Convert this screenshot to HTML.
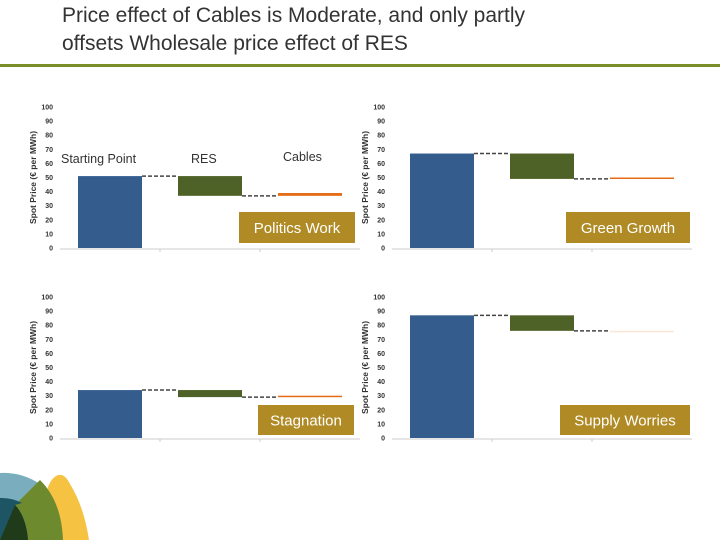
<!DOCTYPE html>
<html><head><meta charset="utf-8"><style>
html,body{margin:0;width:720px;height:540px;background:#fff;overflow:hidden;font-family:"Liberation Sans",sans-serif;}
svg{display:block;}
svg text{font-family:"Liberation Sans",sans-serif;}
</style></head><body>
<svg id="s" width="720" height="540" viewBox="0 0 720 540" xmlns="http://www.w3.org/2000/svg">
<text x="62" y="22" font-size="21" fill="#333">Price effect of Cables is Moderate, and only partly</text>
<text x="62" y="50" font-size="21" fill="#333">offsets Wholesale price effect of RES</text>
<rect x="0" y="64" width="720" height="3" fill="#7a8f2a"/>
<g>
<path d="M0 473 A67 67 0 0 1 40 484 L28 540 L0 540 Z" fill="#7aaebf"/>
<path d="M40 540 C42 505 46 482 56 476 C62 473 66 476 70 484 C80 500 86 520 89 540 Z" fill="#f5c242"/>
<path d="M40 480 C55 495 62 515 63 540 L28 540 C27 525 22 512 15 505 Z" fill="#6e8a2e"/>
<path d="M0 498 A42 42 0 0 1 22 503 L15 505 C22 512 27 525 28 540 L0 540 Z" fill="#1e5565"/>
<path d="M15 505 C22 512 27 525 28 540 L0 540 Z" fill="#1f3b1a"/>
</g>
</svg>
<script>
const categories=["Starting Point","RES","Cables"];
const scenarios=["Politics Work","Green Growth","Stagnation","Supply Worries"];
const startValues=[51,67,34,87];
const resValues=[37,49,29,76];
const cablesValues=[39,50,30,76];
const yTicks=[0,10,20,30,40,50,60,70,80,90,100];
const NS="http://www.w3.org/2000/svg";
const svg=document.getElementById('s');
const layouts=[{x:60,y0:248,lab:[239,212,116,31]},{x:392,y0:248,lab:[566,212,124,31]},{x:60,y0:438,lab:[258,405,96,30]},{x:392,y0:438,lab:[560,405,130,30]}];
function mk(t,a,p){const e=document.createElementNS(NS,t);for(const k in a)e.setAttribute(k,a[k]);(p||svg).appendChild(e);return e;}
scenarios.forEach((name,i)=>{
  const L=layouts[i];
  const g=mk('g',{});
  
  
  const yS=v=>L.y0-v*1.41;
  const xS=c=>L.x+18+c*100;
  const bw=64;
  yTicks.forEach(t=>{const tx=mk('text',{x:L.x-7,y:yS(t)+2.5,'font-size':7,'font-weight':'bold','text-anchor':'end',fill:'#333'},g);tx.textContent=t;
    
    });
  const at=mk('text',{transform:`translate(${L.x-24},${yS(50)}) rotate(-90)`,'font-size':8.5,'font-weight':'bold','text-anchor':'middle',fill:'#333'},g);
  at.textContent='Spot Price (€ per MWh)';
  
  
  const ax=mk('line',{x1:L.x,x2:L.x+300,y1:L.y0+1,y2:L.y0+1,stroke:'#ccc'},g);
  
  
  [100,200].forEach(d=>{const tk=mk('line',{x1:L.x+d,x2:L.x+d,y1:L.y0+1,y2:L.y0+4,stroke:'#ccc'},g);
    
    });
  const s=startValues[i],r=resValues[i],c=cablesValues[i];
  const b0=mk('rect',{x:xS(0),y:yS(s),width:bw,height:yS(0)-yS(s),fill:'#345d8e'},g);
  
  
  const b1=mk('rect',{x:xS(1),y:yS(s),width:bw,height:Math.max(1,yS(r)-yS(s)),fill:'#4e6126'},g);
  
  
  const h=Math.max(1.5,yS(r)-yS(c));
  const b2=mk('rect',{x:xS(2),y:yS(Math.max(r,c)),width:bw,height:h,fill:i==3?'#fbe6d6':'#e46c16'},g);
  
  
  const c1=mk('line',{x1:xS(0)+bw,x2:xS(1),y1:yS(s),y2:yS(s),stroke:'#444','stroke-width':1.5,'stroke-dasharray':'4,2'},g);
  
  
  const c2=mk('line',{x1:xS(1)+bw,x2:xS(2),y1:yS(r),y2:yS(r),stroke:'#444','stroke-width':1.5,'stroke-dasharray':'4,2'},g);
  
  
  if(i==0){
    const pos=[[61,163],[191,163],[283,161]];
    categories.forEach((cat,k)=>{const t=mk('text',{x:pos[k][0],y:pos[k][1],'font-size':12.5,fill:'#333'},g);t.textContent=cat;
      
      });
  }
  const [lx,ly,lw,lh]=L.lab;
  const lb=mk('rect',{x:lx,y:ly,width:lw,height:lh,fill:'#b08a24'},g);
  
  
  const lt=mk('text',{x:lx+lw/2,y:ly+lh/2+5.5,'font-size':15,fill:'#fff','text-anchor':'middle'},g);
  lt.textContent=name;
  
  
});
</script>
</body></html>
